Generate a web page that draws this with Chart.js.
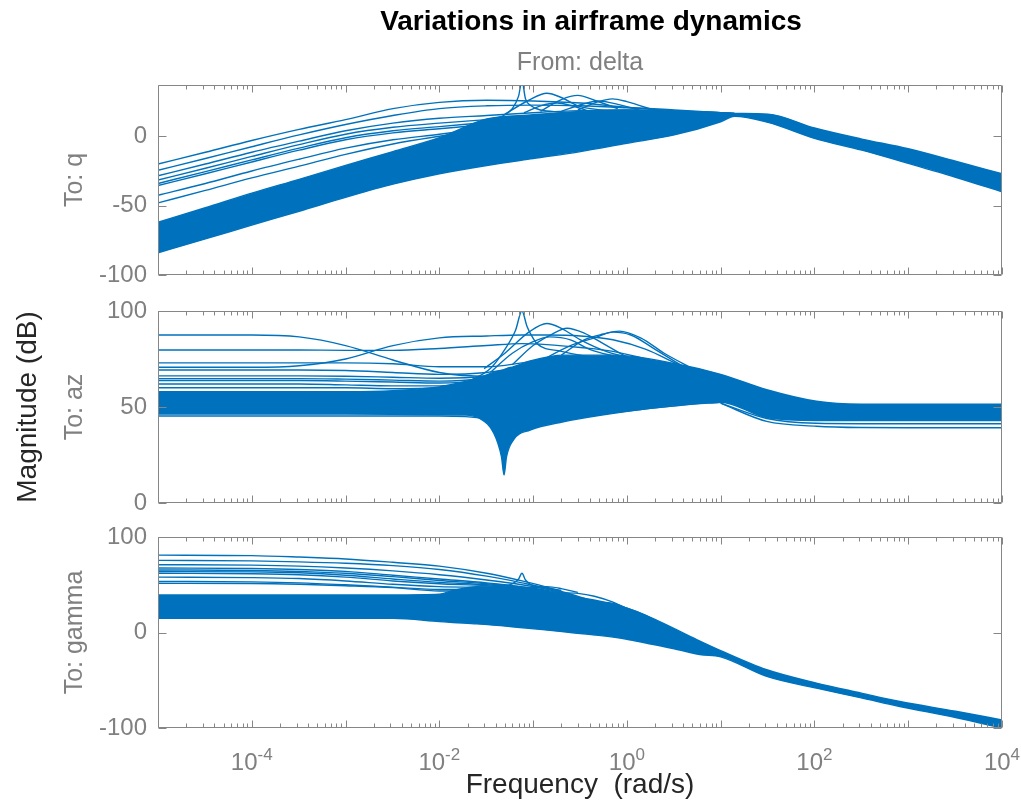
<!DOCTYPE html>
<html>
<head>
<meta charset="utf-8">
<title>Variations in airframe dynamics</title>
<script src="https://cdn.jsdelivr.net/npm/chart.js@4.4.1/dist/chart.umd.min.js"></script>
<style>
  html, body { margin: 0; padding: 0; background: #fff; overflow: hidden; }
  #wrap { position: relative; width: 1021px; height: 804px; overflow: hidden; }
  #wrap canvas { position: absolute; left: 0; top: 0; }
</style>
</head>
<body>
<div id="wrap">
  <canvas id="q" width="1182" height="804" style="width:1182px;height:804px"></canvas>
  <canvas id="az" width="1021" height="804" style="width:1021px;height:804px"></canvas>
  <canvas id="gamma" width="1021" height="804" style="width:1021px;height:804px"></canvas>
</div>
<script>
// tick labels
const xTickExps = [-4, -2, 0, 2, 4];
const qYTicks = [-100, -50, 0];
const azYTicks = [0, 50, 100];
const gammaYTicks = [-100, 0, 100];

// ---- To: q ----  (frequency in rad/s, magnitude in dB)
const qBandW = [1e-5, 3.2e-5, 1e-4, 3.2e-4, 1e-3, 3.2e-3, 0.01, 0.032, 0.1, 0.32, 1, 3.2, 10, 14, 32, 100, 320, 1000, 3200, 1e4];
const qBandTop = [-62, -51.5, -41, -31, -21, -11, -1, 12.5, 15.5, 18, 19, 18, 17, 16.5, 16, 6, -2, -9, -18, -27];
const qBandBot = [-84, -74, -64, -54, -44, -34.5, -27, -21, -16, -11, -5, 1, 10.5, 14.5, 10, -1.5, -10, -19.5, -29.5, -40];
const qLineW = [1e-5, 3.2e-5, 1e-4, 3.2e-4, 1e-3, 3.2e-3, 0.01, 0.032, 0.1, 0.32, 1, 3.2, 10, 14];
const qLines = [
  [-20, -11.5, -3, 5, 12, 20, 24.5, 26, 25.5, 24, 21, 19, 17, 16.5],
  [-24.5, -16, -7.5, 1, 8.5, 15, 20, 22, 22.5, 22, 20.5, 18.5, 17, 16.5],
  [-28.5, -20, -11.5, -3.5, 4, 9.5, 13, 15, 17, 18.5, 19, 18, 17, 16.5],
  [-31.5, -23, -14.5, -6, 1.5, 6.5, 9.5, 12, 15, 17, 18, 17.5, 16.5, 16],
  [-34, -25.5, -17, -8.5, -1, 4, 7, 10, 13, 15.5, 17, 17, 16.5, 16],
  [-35.5, -27, -18.5, -10, -2.5, 2.5, 5.5, 8.5, 12, 15, 16.5, 17, 16.5, 16],
  [-42.5, -34, -25, -16.5, -8.5, -2.5, 1.5, 6, 10, 14, 16, 16.5, 16.5, 16],
  [-48, -39, -30, -21.5, -13, -5.5, 0, 5, 9, 13, 15.5, 16, 16.5, 16]
];
const qResW = [
  [0.03, 0.045, 0.06, 0.07, 0.076, 0.083, 0.095, 0.12, 0.2],
  [0.05, 0.09, 0.14, 0.2, 0.3, 0.6],
  [0.12, 0.2, 0.3, 0.45, 0.8],
  [0.3, 0.5, 0.7, 1.0, 2.0],
  [0.2, 0.35, 0.5, 0.8, 1.5],
  [0.08, 0.12, 0.18, 0.26, 0.4]
];
const qResDb = [
  [10, 14, 20, 29, 40, 27, 22, 19, 17.5],
  [16, 26, 31, 28, 22, 18.5],
  [18, 26.5, 29.5, 26, 20],
  [19, 25, 27, 25, 18.5],
  [18, 23.5, 25.5, 23, 18],
  [17, 22, 24, 22, 18]
];

// ---- To: az ----
const azBandW = [1e-5, 3.2e-5, 1e-4, 3.2e-4, 1e-3, 3.2e-3, 0.01, 0.018, 0.027, 0.038, 0.046, 0.049, 0.052, 0.062, 0.093, 0.21, 0.72, 3.7, 10, 31, 105, 316, 1000, 1e4];
const azBandTop = [58, 58, 58, 58, 58, 58.5, 60.5, 63, 65.5, 68, 69, 69.5, 70, 71, 74, 77, 77, 72, 67, 59, 53, 51.5, 51.5, 51.5];
const azBandBot = [46.3, 46.3, 46.3, 46.3, 46.3, 46.2, 46, 45.8, 44, 36.5, 24, 14.6, 24, 33, 38, 42.3, 46.7, 51, 52.5, 44.5, 43, 43, 43, 43];
const azLineW = [1e-5, 1e-4, 3.2e-4, 1e-3, 3.2e-3, 0.01, 0.032, 0.076, 0.14, 0.32, 0.71, 1.6, 4, 10];
const azLines = [
  [87.5, 87.5, 86.5, 82, 74.5, 68, 66, 68, 70, 72, 73, 72, 68, 64],
  [70.7, 70.7, 71.5, 75, 82, 86, 87, 87.5, 87.5, 87, 85, 80, 71, 65],
  [79.7, 79.7, 79.7, 79.5, 79.5, 80.5, 82, 83, 82.5, 81, 79, 75, 70, 64],
  [73, 73, 73, 73, 72.5, 71, 71, 73, 75, 76, 76, 74, 69, 64],
  [69.3, 69.3, 69.3, 69, 68, 67, 68, 71, 73, 75, 75, 73, 69, 63],
  [66.2, 66.2, 66.2, 66, 65.5, 65, 66, 69, 72, 74, 74, 72, 68, 62],
  [64.8, 64.8, 64.8, 64.5, 64, 63.5, 65, 68, 71, 73, 74, 72, 67, 62],
  [63.8, 63.8, 63.8, 63.5, 63, 62.5, 64, 67, 70, 72, 73, 71, 67, 61],
  [62, 62, 62, 61.5, 61, 61, 63, 66, 69, 71, 72, 70, 66, 61],
  [60, 60, 60, 60, 59.5, 60, 62, 65, 68, 70, 71, 69, 65, 60],
  [45.3, 45.3, 45.3, 45.3, 45.3, 45.3, 44, 40, 42, 44.5, 47, 49, 51, 52.5]
];
const azTailW = [10, 31, 105, 316, 1000, 1e4];
const azTails = [
  [52, 42.5, 40, 39.3, 39.2, 39.2],
  [52, 44, 41.5, 41.3, 41.3, 41.3]
];
const azResW = [
  [0.02, 0.035, 0.05, 0.065, 0.076, 0.086, 0.093, 0.11, 0.2, 0.4],
  [0.03, 0.05, 0.09, 0.14, 0.2, 0.32, 0.6, 1.2],
  [0.06, 0.1, 0.16, 0.23, 0.35, 0.56, 1.0],
  [0.12, 0.25, 0.45, 0.71, 1.1, 2, 4],
  [0.2, 0.35, 0.56, 0.83, 1.4, 2.5, 5],
  [0.035, 0.06, 0.1, 0.15, 0.25, 0.4, 0.8]
];
const azResDb = [
  [63, 70, 80, 90, 100, 92, 88.5, 83, 79, 76],
  [70, 78, 89, 93.5, 91, 85, 79, 75],
  [72, 82, 88, 91, 88.5, 83, 76],
  [74, 82, 86, 89, 87.5, 80, 71],
  [77, 85, 88, 89.5, 86, 78, 70],
  [68, 78, 84, 86.5, 85, 80, 76]
];

// ---- To: gamma ----
const gBandW = [1e-5, 3.2e-5, 1e-4, 3.2e-4, 1e-3, 3.2e-3, 0.01, 0.014, 0.025, 0.063, 0.126, 0.25, 0.5, 1, 1.6, 3.2, 6, 10, 31, 105, 316, 813, 3200, 1e4];
const gBandTop = [39.3, 39.3, 39.3, 39.3, 39.3, 39.3, 40, 44, 48, 47, 43, 38, 33, 25.5, 18, 4, -9, -19, -39, -53, -63.5, -72.3, -82.5, -91.6];
const gBandBot = [15, 15, 15, 15, 15, 14.9, 11.5, 10.5, 9, 5.8, 3, 0, -3, -7, -11, -17, -23, -25.5, -46, -58.3, -68.5, -77.5, -89, -100];
const gLineW = [1e-5, 1e-4, 3.2e-4, 1e-3, 3.2e-3, 0.01, 0.032, 0.076, 0.16, 0.32, 0.63];
const gLines = [
  [81, 80.5, 79, 77, 73.5, 69.5, 62, 54, 46, 37, 29],
  [75.5, 75, 74, 72.5, 70, 66, 59, 52, 45, 36, 29],
  [71, 70.5, 69.5, 67.5, 64.5, 60.5, 55, 50, 44, 35, 29],
  [67.5, 67, 66, 64, 60, 56, 52, 48, 43, 35, 29],
  [65.5, 65, 64, 62, 58.5, 54.5, 51, 47.5, 42, 34, 28],
  [63.8, 63.5, 62.5, 60, 56, 52.5, 50, 47, 42, 34, 28],
  [62, 61.5, 60.5, 58, 54, 51, 49, 46, 41, 34, 28],
  [58, 57.5, 56.5, 54, 50.5, 48, 47, 45, 40, 33, 28],
  [53.5, 53, 52, 50, 47.5, 45, 45, 43.5, 39, 33, 27],
  [51.5, 51.3, 50.5, 49, 47, 43.5, 44, 42.5, 38, 32, 27]
];
const gResW = [
  [0.04, 0.06, 0.07, 0.076, 0.083, 0.095, 0.13, 0.2],
  [0.06, 0.1, 0.14, 0.2, 0.3],
  [0.15, 0.22, 0.3, 0.45, 0.7, 1.0],
  [0.35, 0.55, 0.72, 1.0, 1.4, 2.0]
];
const gResDb = [
  [48, 51, 56, 62, 55, 50, 47, 44],
  [44, 47, 48, 46, 42],
  [39, 41.5, 41, 38, 32, 25],
  [30, 31.5, 30.5, 25.5, 20, 13]
];

const BLUE = '#0072BD';
const GRAY = '#808080';
const AXIS = '#868686';
const DARK = '#262626';
const FONT = "'Liberation Sans', Arial, Helvetica, sans-serif";

function pts(w, db) {
  return w.map((f, i) => ({ x: f, y: db[i] }));
}

function line(w, db) {
  return {
    data: pts(w, db), yAxisID: 'y',
    borderColor: BLUE, borderWidth: 1.4, pointRadius: 0,
    fill: false, cubicInterpolationMode: 'monotone'
  };
}

function band(w, top, bot) {
  const lo = line(w, bot);
  const hi = line(w, top);
  hi.fill = '-1';
  hi.backgroundColor = BLUE;
  return [lo, hi];
}

// box + inward ticks, like the MATLAB axes
const frame = {
  id: 'frame',
  afterDatasetsDraw(chart, args, opts) {
    const { ctx, chartArea: a, scales } = chart;
    const x = scales.x, y = scales.y;
    const l = Math.round(a.left) + 0.5, r = Math.round(a.right) - 0.5;
    const t = Math.round(a.top) + 0.5, b = Math.round(a.bottom) - 0.5;
    ctx.save();
    ctx.strokeStyle = AXIS;
    ctx.lineWidth = 1;
    ctx.beginPath();
    ctx.rect(l, t, r - l, b - t);
    opts.yTicks.forEach(v => {
      const py = Math.round(y.getPixelForValue(v)) + 0.5;
      ctx.moveTo(l, py); ctx.lineTo(l + 8, py);
      ctx.moveTo(r, py); ctx.lineTo(r - 8, py);
    });
    for (let k = -5; k <= 4; k++) {
      for (let m = 1; m <= 9; m++) {
        const v = m * Math.pow(10, k);
        if (v > 1e4) break;
        const px = Math.round(x.getPixelForValue(v)) + 0.5;
        const len = m === 1 ? 7 : 4;
        ctx.moveTo(px, b); ctx.lineTo(px, b - len);
        ctx.moveTo(px, t); ctx.lineTo(px, t + len);
      }
    }
    ctx.stroke();
    ctx.restore();
  }
};

// 10^n labels under the bottom axes
const xLabels = {
  id: 'xLabels',
  afterDraw(chart) {
    const { ctx, chartArea: a, scales: { x } } = chart;
    ctx.save();
    ctx.fillStyle = GRAY;
    ctx.textAlign = 'left';
    ctx.textBaseline = 'alphabetic';
    xTickExps.forEach(e => {
      const px = x.getPixelForValue(Math.pow(10, e));
      ctx.font = '24px ' + FONT;
      const w1 = ctx.measureText('10').width;
      ctx.font = '17px ' + FONT;
      const sup = String(e);
      const w2 = ctx.measureText(sup).width;
      const left = px - (w1 + w2) / 2;
      ctx.font = '24px ' + FONT;
      ctx.fillText('10', left, a.bottom + 42);
      ctx.font = '17px ' + FONT;
      ctx.fillText(sup, left + w1, a.bottom + 32);
    });
    ctx.restore();
  }
};

function xScale(show) {
  const s = {
    type: 'logarithmic', min: 1e-5, max: 1e4, display: show,
    grid: { display: false, drawTicks: false },
    border: { display: false },
    ticks: { display: false },
    title: {
      display: show, text: 'Frequency  (rad/s)', color: DARK,
      font: { family: FONT, size: 28 }, padding: { top: 0, bottom: 2 }
    }
  };
  if (show) s.afterFit = sc => { sc.height = 76; };
  return s;
}

function yScale(min, max, ticks, title, width, titlePad) {
  return {
    type: 'linear', position: 'left', min: min, max: max,
    afterBuildTicks: s => { s.ticks = ticks.map(v => ({ value: v })); },
    afterFit: s => { s.width = width; },
    grid: { display: false, drawTicks: false },
    border: { display: false },
    ticks: { color: GRAY, font: { family: FONT, size: 24 }, padding: 11 },
    title: {
      display: true, text: title, color: GRAY,
      font: { family: FONT, size: 25 }, padding: { top: titlePad, bottom: 0 }
    }
  };
}

function spacer(position, width) {
  return {
    type: 'linear', position: position, weight: 1, min: 0, max: 1,
    afterFit: s => { s.width = width; },
    grid: { display: false, drawTicks: false },
    border: { display: false },
    ticks: { display: false }
  };
}

function baseOptions(padding) {
  return {
    responsive: false, animation: false, devicePixelRatio: 1,
    layout: { padding: padding },
    plugins: { legend: { display: false }, tooltip: { enabled: false } }
  };
}

// To: q  (its canvas runs past the page edge so the figure title is centred where MATLAB puts it)
const o1 = baseOptions({ left: 0, right: 0, top: 0, bottom: 529 });
o1.plugins.title = {
  display: true, text: 'Variations in airframe dynamics', color: '#000',
  font: { family: FONT, size: 28, weight: 'bold' }, padding: { top: 5.2, bottom: 0 }
};
o1.plugins.subtitle = {
  display: true, text: 'From: delta', fullSize: false, color: GRAY,
  font: { family: FONT, size: 25 }, padding: { top: 9.2, bottom: 7 }
};
o1.plugins.frame = { yTicks: qYTicks };
o1.scales = {
  y: yScale(-100, 37, qYTicks, 'To: q', 158, 60),
  yright: spacer('right', 180),
  x: xScale(false)
};
new Chart(document.getElementById('q'), {
  type: 'line',
  data: {
    datasets: [
      ...band(qBandW, qBandTop, qBandBot),
      ...qLines.map(d => line(qLineW, d)),
      ...qResW.map((w, i) => line(w, qResDb[i]))
    ]
  },
  options: o1,
  plugins: [frame]
});

// To: az
const o2 = baseOptions({ left: 0, right: 19, top: 311, bottom: 301 });
o2.plugins.frame = { yTicks: azYTicks };
const ylab = spacer('left', 55);
ylab.title = {
  display: true, text: 'Magnitude (dB)', color: DARK,
  font: { family: FONT, size: 28 }, padding: { top: 11, bottom: 0 }
};
o2.scales = { y: yScale(0, 100, azYTicks, 'To: az', 103, 5), ylab: ylab, x: xScale(false) };
new Chart(document.getElementById('az'), {
  type: 'line',
  data: {
    datasets: [
      ...band(azBandW, azBandTop, azBandBot),
      ...azLines.map(d => line(azLineW, d)),
      ...azTails.map(d => line(azTailW, d)),
      ...azResW.map((w, i) => line(w, azResDb[i]))
    ]
  },
  options: o2,
  plugins: [frame]
});

// To: gamma
const o3 = baseOptions({ left: 0, right: 19, top: 537, bottom: 0 });
o3.plugins.frame = { yTicks: gammaYTicks };
o3.scales = { y: yScale(-100, 100, gammaYTicks, 'To: gamma', 158, 60), x: xScale(true) };
new Chart(document.getElementById('gamma'), {
  type: 'line',
  data: {
    datasets: [
      ...band(gBandW, gBandTop, gBandBot),
      ...gLines.map(d => line(gLineW, d)),
      ...gResW.map((w, i) => line(w, gResDb[i]))
    ]
  },
  options: o3,
  plugins: [frame, xLabels]
});
</script>
</body>
</html>
